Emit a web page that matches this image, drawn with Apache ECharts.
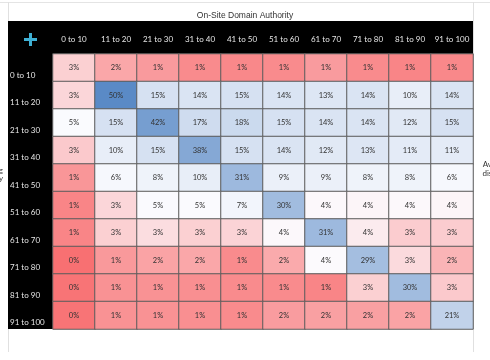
<!DOCTYPE html>
<html><head><meta charset="utf-8">
<script src="https://cdn.jsdelivr.net/npm/echarts@6/dist/echarts.min.js"></script>
<style>html,body{margin:0;padding:0;background:#fff}#c{width:490px;height:360px}</style>
</head><body><div id="c"></div>
<script>
const chartTitle = 'On-Site Domain Authority';
const colLabels = ['0 to 10','11 to 20','21 to 30','31 to 40','41 to 50','51 to 60','61 to 70','71 to 80','81 to 90','91 to 100'];
const rowLabels = ['0 to 10','11 to 20','21 to 30','31 to 40','41 to 50','51 to 60','61 to 70','71 to 80','81 to 90','91 to 100'];
// percentage values per row (decimals estimated from cell shading)
const row0 = [3.0, 1.8, 1.45, 1.0, 0.9, 1.0, 1.48, 1.0, 0.8, 0.9];
const row1 = [3.2, 50, 15, 14, 15, 14, 13, 14, 10, 14];
const row2 = [4.8, 15, 42, 17, 18, 15, 14, 14, 12, 15];
const row3 = [2.8, 10, 15, 38, 15, 14, 12, 13, 11, 11];
const row4 = [1.3, 6, 8, 10, 31, 9, 9, 8, 8, 6];
const row5 = [0.8, 3.2, 5, 5, 7, 30, 4.2, 4.1, 4.2, 4.1];
const row6 = [0.8, 3.0, 3.4, 3.0, 3.1, 4.2, 31, 3.8, 2.9, 2.9];
const row7 = [0.2, 1.4, 1.7, 1.8, 1.0, 1.9, 4.3, 29, 3.3, 2.2];
const row8 = [0.3, 1.2, 1.2, 1.1, 1.0, 1.0, 0.8, 3.0, 30, 2.8];
const row9 = [0.3, 1.2, 1.2, 1.1, 1.0, 1.5, 1.6, 1.6, 1.7, 21];
const rows = [row0,row1,row2,row3,row4,row5,row6,row7,row8,row9];

const data = [];
rows.forEach((r, yi) => r.forEach((v, xi) => data.push([xi, yi, v])));

// 3-colour scale (red - white - blue) with midpoint
const cMin = [248,105,107], cMid = [252,252,255], cMax = [90,138,198];
const vMin = 0, vMid = 4.3, vMax = 50;
function mix(a,b,t){return 'rgb('+a.map((x,i)=>Math.round(x+(b[i]-x)*t)).join(',')+')';}
const stops = [];
for (let v = vMin; v <= vMax + 1e-9; v += 0.25) {
  stops.push(v <= vMid ? mix(cMin,cMid,(v-vMin)/(vMid-vMin)) : mix(cMid,cMax,(v-vMid)/(vMax-vMid)));
}

const chart = echarts.init(document.getElementById('c'));
const F = 'Lato, "Open Sans", sans-serif';
chart.setOption({
  animation:false,
  backgroundColor:'#fff',
  title:{text:chartTitle,left:240,textAlign:'center',top:6,textStyle:{fontSize:8.5,fontWeight:'normal',color:'#333',fontFamily:'"Liberation Sans", Arial, sans-serif'}},
  graphic:[
    {type:'line',shape:{x1:0,y1:2.5,x2:490,y2:2.5},style:{stroke:'#e4e4e4',lineWidth:1},z:-10},
    {type:'line',shape:{x1:8.5,y1:2,x2:8.5,y2:352},style:{stroke:'#e0e0e0',lineWidth:1},z:-10},
    {type:'line',shape:{x1:473.5,y1:2,x2:473.5,y2:352},style:{stroke:'#e0e0e0',lineWidth:1},z:-10},
    {type:'rect',shape:{x:8,y:21,width:465,height:33},style:{fill:'#000'},z:-5},
    {type:'rect',shape:{x:8,y:54,width:45,height:275},style:{fill:'#000'},z:-5},
    {type:'rect',shape:{x:24,y:38,width:13,height:3},style:{fill:'#3fb0d4'},z:5},
    {type:'rect',shape:{x:29,y:33,width:3,height:13},style:{fill:'#3fb0d4'},z:5},
    {type:'text',x:497,y:160,style:{text:'Average\ndistance\n(%)',fill:'#333',font:'8px '+F,lineHeight:9,align:'center'}},
    {type:'text',x:3,y:166,style:{text:'Referring\nDomain Authority',fill:'#333',font:'8px '+F,lineHeight:8,align:'right'}}
  ],
  grid:{left:53,top:54,width:420,height:275},
  xAxis:{type:'category',data:colLabels,position:'top',
    axisLine:{show:false},axisTick:{show:false},splitLine:{show:false},
    axisLabel:{color:'#e6e6e6',fontSize:8,fontFamily:F,margin:11,interval:0}},
  yAxis:{type:'category',data:rowLabels,inverse:true,
    axisLine:{show:false},axisTick:{show:false},splitLine:{show:false},
    axisLabel:{color:'#e6e6e6',fontSize:8,fontFamily:F,margin:43,align:'left',verticalAlign:'top',lineHeight:15,interval:0}},
  visualMap:{show:false,min:vMin,max:vMax,dimension:2,inRange:{color:stops}},
  series:[{type:'heatmap',data:data,
    itemStyle:{borderColor:'#5c5c5c',borderWidth:1},
    label:{show:true,color:'#333',fontSize:7.5,fontFamily:F,formatter:p=>Math.round(p.value[2])+'%'},
    emphasis:{disabled:true}}]
});
</script></body></html>
